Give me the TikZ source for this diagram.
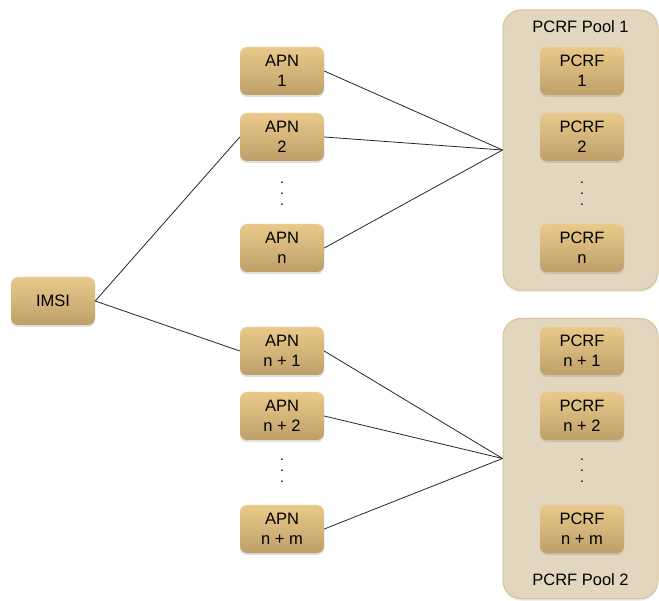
\documentclass[tikz,border=0pt]{standalone}
\usepackage{fontspec}
\setmainfont{Liberation Sans}
\usetikzlibrary{shadows}

\definecolor{boxtop}{HTML}{E9CA8B}
\definecolor{boxbot}{HTML}{BE9F69}
\definecolor{poolfill}{HTML}{E2D6BE}
\definecolor{poolline}{HTML}{D8C394}

\begin{document}
\begin{tikzpicture}[x=1pt, y=-1pt,
    box/.style={rounded corners=7pt, top color=boxtop, bottom color=boxbot,
      minimum width=84pt, minimum height=48pt, align=center, inner sep=0pt,
      font=\fontsize{16.5}{20}\selectfont,
      drop shadow={shadow xshift=0pt, shadow yshift=-2pt, opacity=0.25}},
    pool/.style={rounded corners=18pt, fill=poolfill, draw=poolline, line width=1pt,
      minimum width=155pt, minimum height=280pt, inner sep=0pt,
      drop shadow={shadow xshift=0pt, shadow yshift=-2pt, opacity=0.2}},
    dot/.style={inner sep=0pt, font=\fontsize{10}{10}\bfseries},
    link/.style={black!85, line width=0.8pt}]
    \useasboundingbox (0,0) rectangle (659,601);

    % pools
    \node[pool] (pool1) at (580.5,150) {};
    \node[pool] (pool2) at (580.5,458.5) {};
    \node[font=\fontsize{16.5}{20}\selectfont] (pool1lbl) at (580.5,27) {PCRF Pool 1};
    \node[font=\fontsize{16.5}{20}\selectfont] (pool2lbl) at (580.5,580) {PCRF Pool 2};

    % IMSI and APNs
    \node[box] (imsi) at (53,301) {IMSI};
    \node[box] (apn1) at (282,71) {APN\\1};
    \node[box] (apn2) at (282,137) {APN\\2};
    \node[box] (apnn) at (282,248) {APN\\n};
    \node[box] (apnn1) at (282,351) {APN\\n + 1};
    \node[box] (apnn2) at (282,416) {APN\\n + 2};
    \node[box] (apnnm) at (282,529) {APN\\n + m};

    % PCRFs
    \node[box] (pcrf1) at (582,71) {PCRF\\1};
    \node[box] (pcrf2) at (582,137) {PCRF\\2};
    \node[box] (pcrfn) at (582,248) {PCRF\\n};
    \node[box] (pcrfn1) at (582,351) {PCRF\\n + 1};
    \node[box] (pcrfn2) at (582,416) {PCRF\\n + 2};
    \node[box] (pcrfnm) at (582,529) {PCRF\\n + m};

    % vertical dots
    \foreach \x/\col in {282/apn,582/pcrf}
      \foreach \y/\row in {0/a,277/b}
        \foreach \d in {1,2,3}
          \node[dot] (\col dot\row\d) at (\x,172+\y+11*\d) {.};

    % links
    \draw[link] (apn2.west) -- (imsi.east) -- (apnn1.west);
    \foreach \a in {apn1,apn2,apnn} \draw[link] (\a.east) -- (pool1.west);
    \foreach \a in {apnn1,apnn2,apnnm} \draw[link] (\a.east) -- (pool2.west);
\end{tikzpicture}
\end{document}
